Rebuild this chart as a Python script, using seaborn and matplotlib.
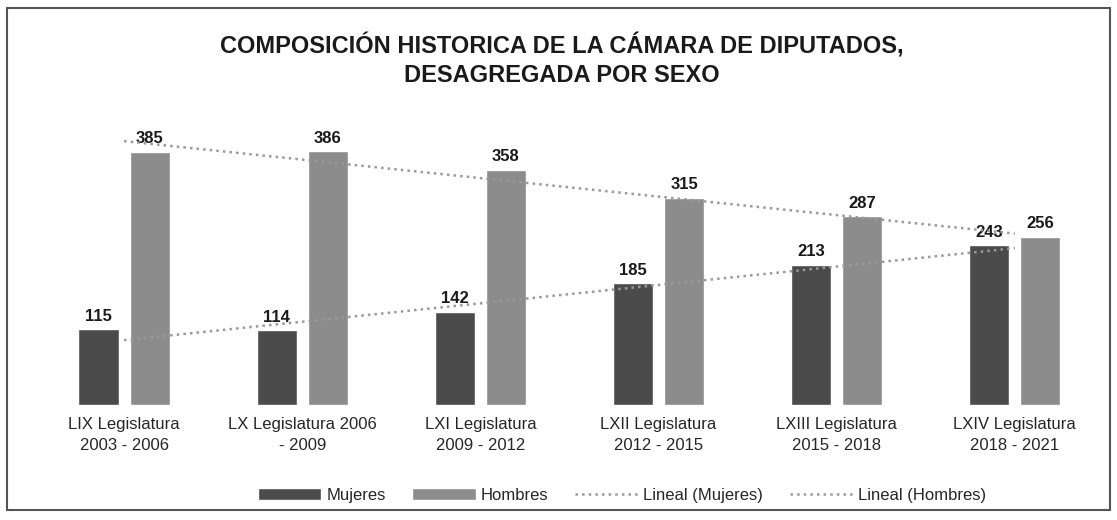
import numpy as np
import pandas as pd
import matplotlib
matplotlib.use("Agg")
import matplotlib.pyplot as plt
import seaborn as sns
from matplotlib.patches import Rectangle

# Data
legislaturas = [
    "LIX Legislatura\n2003 - 2006",
    "LX Legislatura 2006\n- 2009",
    "LXI Legislatura\n2009 - 2012",
    "LXII Legislatura\n2012 - 2015",
    "LXIII Legislatura\n2015 - 2018",
    "LXIV Legislatura\n2018 - 2021",
]
mujeres = [115, 114, 142, 185, 213, 243]
hombres = [385, 386, 358, 315, 287, 256]

df = pd.DataFrame({
    "legislatura": legislaturas * 2,
    "diputados": mujeres + hombres,
    "sexo": ["Mujeres"] * len(mujeres) + ["Hombres"] * len(hombres),
})

sns.set_style("white")
plt.rcParams["font.family"] = ["Liberation Sans", "DejaVu Sans"]

fig = plt.figure(figsize=(11.17, 5.2), dpi=100)
ax = fig.add_axes([0.0313, 0.2212, 0.957, 0.5687])

sns.barplot(data=df, x="legislatura", y="diputados", hue="sexo",
            palette={"Mujeres": "#4b4b4b", "Hombres": "#8c8c8c"},
            width=0.574, gap=0.216, saturation=1, ax=ax)
ax.get_legend().remove()

for cont in ax.containers:
    ax.bar_label(cont, padding=4, fontsize=12, fontweight="bold", color="#1a1a1a")

# linear trend lines (Excel "Lineal")
xpos = np.arange(len(legislaturas))
sns.regplot(x=xpos, y=mujeres, scatter=False, ci=None, ax=ax,
            label="Lineal (Mujeres)",
            line_kws=dict(color="#9a9a9a", ls=":", lw=1.8, zorder=5))
sns.regplot(x=xpos, y=hombres, scatter=False, ci=None, ax=ax,
            label="Lineal (Hombres)",
            line_kws=dict(color="#9a9a9a", ls=":", lw=1.8, zorder=5))

ax.set_xlim(-0.5, len(legislaturas) - 0.5)
ax.set_ylim(0, 450)
ax.set_xlabel("")
ax.set_ylabel("")
ax.set_yticks([])
ax.tick_params(axis="x", length=0, pad=9, labelsize=12)
for lab in ax.get_xticklabels():
    lab.set_linespacing(1.45)
for s in ax.spines.values():
    s.set_visible(False)

fig.text(0.503, 0.885, "COMPOSICIÓN HISTORICA DE LA CÁMARA DE DIPUTADOS,\nDESAGREGADA POR SEXO",
         ha="center", va="center", fontsize=17, fontweight="bold",
         linespacing=1.3, color="#1a1a1a")

handles, labels = ax.get_legend_handles_labels()
order = ["Mujeres", "Hombres", "Lineal (Mujeres)", "Lineal (Hombres)"]
hmap = dict(zip(labels, handles))
fig.legend([hmap[k] for k in order], order, loc="center", ncol=4,
           bbox_to_anchor=(0.557, 0.048), frameon=False, fontsize=12,
           handlelength=3.8, handletextpad=0.3, columnspacing=1.6)

fig.patches.append(Rectangle((0.006, 0.02), 0.988, 0.965, transform=fig.transFigure,
                             fill=False, edgecolor="#555555", lw=1.5))

fig.savefig("out.png", dpi=100, facecolor="white")
